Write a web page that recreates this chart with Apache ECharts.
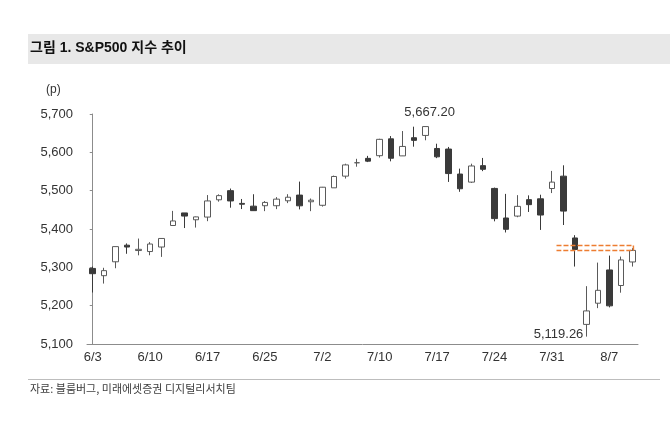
<!DOCTYPE html>
<html>
<head>
<meta charset="utf-8">
<script src="https://cdn.jsdelivr.net/npm/echarts@6/dist/echarts.min.js"></script>
<style>
  html, body { margin: 0; padding: 0; background: #fff; }
  #main { width: 670px; height: 422px; }
</style>
</head>
<body>
<div id="main"></div>
<script>
// S&P500 daily candles, 2024-06-03 .. 2024-08-09
var dates = ['6/3','6/4','6/5','6/6','6/7','6/10','6/11','6/12','6/13','6/14',
  '6/17','6/18','6/20','6/21','6/24','6/25','6/26','6/27','6/28','7/1',
  '7/2','7/3','7/5','7/8','7/9','7/10','7/11','7/12','7/15','7/16',
  '7/17','7/18','7/19','7/22','7/23','7/24','7/25','7/26','7/29','7/30',
  '7/31','8/1','8/2','8/5','8/6','8/7','8/8','8/9'];
var openP = [5297.15,5278.24,5314.48,5357.80,5343.81,5341.22,5353.00,5409.13,5441.93,5424.08,
  5431.11,5476.15,5499.99,5466.77,5459.58,5460.73,5460.71,5473.59,5488.48,5471.08,
  5461.84,5507.44,5537.91,5572.75,5584.24,5591.26,5635.21,5590.76,5638.16,5644.09,
  5610.07,5608.56,5543.37,5522.30,5565.30,5505.84,5428.70,5433.67,5476.55,5478.73,
  5505.59,5537.84,5376.63,5151.14,5206.42,5293.13,5252.57,5314.00];
var highP = [5302.11,5298.80,5354.16,5362.35,5375.08,5365.79,5375.95,5447.25,5441.93,5432.39,
  5488.50,5490.38,5505.53,5478.31,5490.66,5472.88,5483.14,5490.81,5523.64,5479.55,
  5509.69,5539.27,5570.33,5583.11,5590.75,5635.39,5642.45,5655.56,5666.94,5667.34,
  5622.49,5614.05,5557.50,5570.36,5585.34,5508.04,5491.59,5488.32,5487.74,5489.46,
  5551.51,5566.16,5383.89,5250.89,5312.34,5330.64,5328.03,5350.00];
var lowP = [5234.32,5257.63,5297.64,5335.36,5331.33,5331.52,5327.25,5409.13,5402.51,5403.75,
  5420.40,5471.32,5455.56,5452.03,5447.59,5446.56,5451.87,5467.54,5451.12,5446.53,
  5458.43,5507.42,5531.63,5562.51,5574.57,5586.44,5576.53,5590.44,5614.75,5631.47,
  5584.81,5522.81,5497.04,5520.02,5550.90,5419.98,5390.95,5430.70,5444.44,5397.59,
  5493.75,5410.42,5302.03,5119.26,5193.56,5195.54,5233.85,5302.00];
var closeP = [5283.40,5291.34,5354.03,5352.96,5346.99,5360.79,5375.32,5421.03,5433.74,5431.60,
  5473.23,5487.03,5473.17,5464.62,5447.87,5469.30,5477.90,5482.87,5460.48,5475.09,
  5509.01,5537.02,5567.19,5572.85,5576.98,5633.91,5584.54,5615.35,5631.22,5667.20,
  5588.27,5544.59,5505.00,5564.41,5555.74,5427.13,5399.22,5459.10,5463.54,5436.44,
  5522.30,5446.68,5346.56,5186.33,5240.03,5199.50,5319.31,5344.16];

// orange dashed band (x in candle index units, y in index points)
var bandX = [40.4, 47.1];
var bandLevels = [5357, 5344];

var yTicks = { min: 5100, max: 5700, step: 100 };

var candles = dates.map(function (d, i) {
  return [openP[i], closeP[i], lowP[i], highP[i]];
});
var band = [
  [bandX[0], bandLevels[0]], [bandX[1], bandLevels[0]],
  [bandX[1], bandLevels[1]], [bandX[0], bandLevels[1]]
];

function fmt(v, dec) {
  var s = v.toFixed(dec).split('.');
  s[0] = s[0].replace(/\B(?=(\d{3})+(?!\d))/g, ',');
  return s.join('.');
}

var FONT = '"Liberation Sans", Arial, "Noto Sans CJK KR", sans-serif';
var chart = echarts.init(document.getElementById('main'));

var option = {
  backgroundColor: '#fff',
  animation: false,
  textStyle: { fontFamily: FONT },
  grid: { left: 87, right: 32, top: 114, bottom: 78 },
  graphic: [
    { type: 'rect', shape: { x: 28, y: 34, width: 642, height: 30 },
      style: { fill: '#e8e8e8' } },
    { type: 'text', left: 30, top: 41,
      style: { text: '그림 1. S&P500 지수 추이', fill: '#111',
        font: 'bold 14px "Liberation Sans", Arial, "Noto Sans CJK KR", sans-serif' } },
    { type: 'text', left: 46, top: 84,
      style: { text: '(p)', fill: '#333', font: '12px ' + FONT } },
    { type: 'line', shape: { x1: 28, y1: 379.5, x2: 660, y2: 379.5 },
      style: { stroke: '#bdbdbd', lineWidth: 1 } },
    { type: 'text', left: 30, top: 383,
      style: { text: '자료: 블룸버그, 미래에셋증권 디지털리서치팀', fill: '#404040',
        font: '11px "Noto Sans CJK KR", sans-serif' } }
  ],
  xAxis: [{
    type: 'category',
    data: dates,
    boundaryGap: true,
    axisLine: { lineStyle: { color: '#8c8c8c' } },
    axisTick: { inside: true, length: 4, interval: 4, lineStyle: { color: '#8c8c8c' } },
    axisLabel: { interval: 4, margin: 7, color: '#333', fontSize: 13, fontFamily: FONT },
    splitLine: { show: false }
  }, {
    type: 'value',
    min: -0.5,
    max: dates.length - 0.5,
    show: false
  }],
  yAxis: {
    type: 'value',
    min: yTicks.min,
    max: yTicks.max,
    interval: yTicks.step,
    axisLine: { show: true, lineStyle: { color: '#8c8c8c' } },
    axisTick: { show: true, length: 3, lineStyle: { color: '#8c8c8c' } },
    axisLabel: { margin: 14, color: '#333', fontSize: 13, fontFamily: FONT,
      formatter: function (v) { return fmt(v, 0); } },
    splitLine: { show: false }
  },
  series: [{
    type: 'candlestick',
    data: candles,
    barWidth: 6,
    itemStyle: {
      color: '#ffffff',
      color0: '#3a3a3a',
      borderColor: '#5a5a5a',
      borderColor0: '#3a3a3a',
      borderWidth: 1
    },
    markPoint: {
      symbol: 'circle',
      symbolSize: 0,
      data: [
        { type: 'max', valueDim: 'close',
          label: { position: 'top', distance: 8, offset: [4, 0] } },
        { type: 'min', valueDim: 'lowest',
          label: { position: 'left', distance: 3, offset: [0, -2] } }
      ],
      label: {
        show: true, color: '#333', fontSize: 13, fontFamily: FONT,
        formatter: function (p) { return fmt(p.value, 2); }
      }
    }
  }, {
    type: 'line',
    xAxisIndex: 1,
    data: band,
    symbol: 'none',
    lineStyle: { color: '#ed7d31', width: 1.5, type: [5, 2] },
    z: 5
  }]
};
chart.setOption(option);
</script>
</body>
</html>
